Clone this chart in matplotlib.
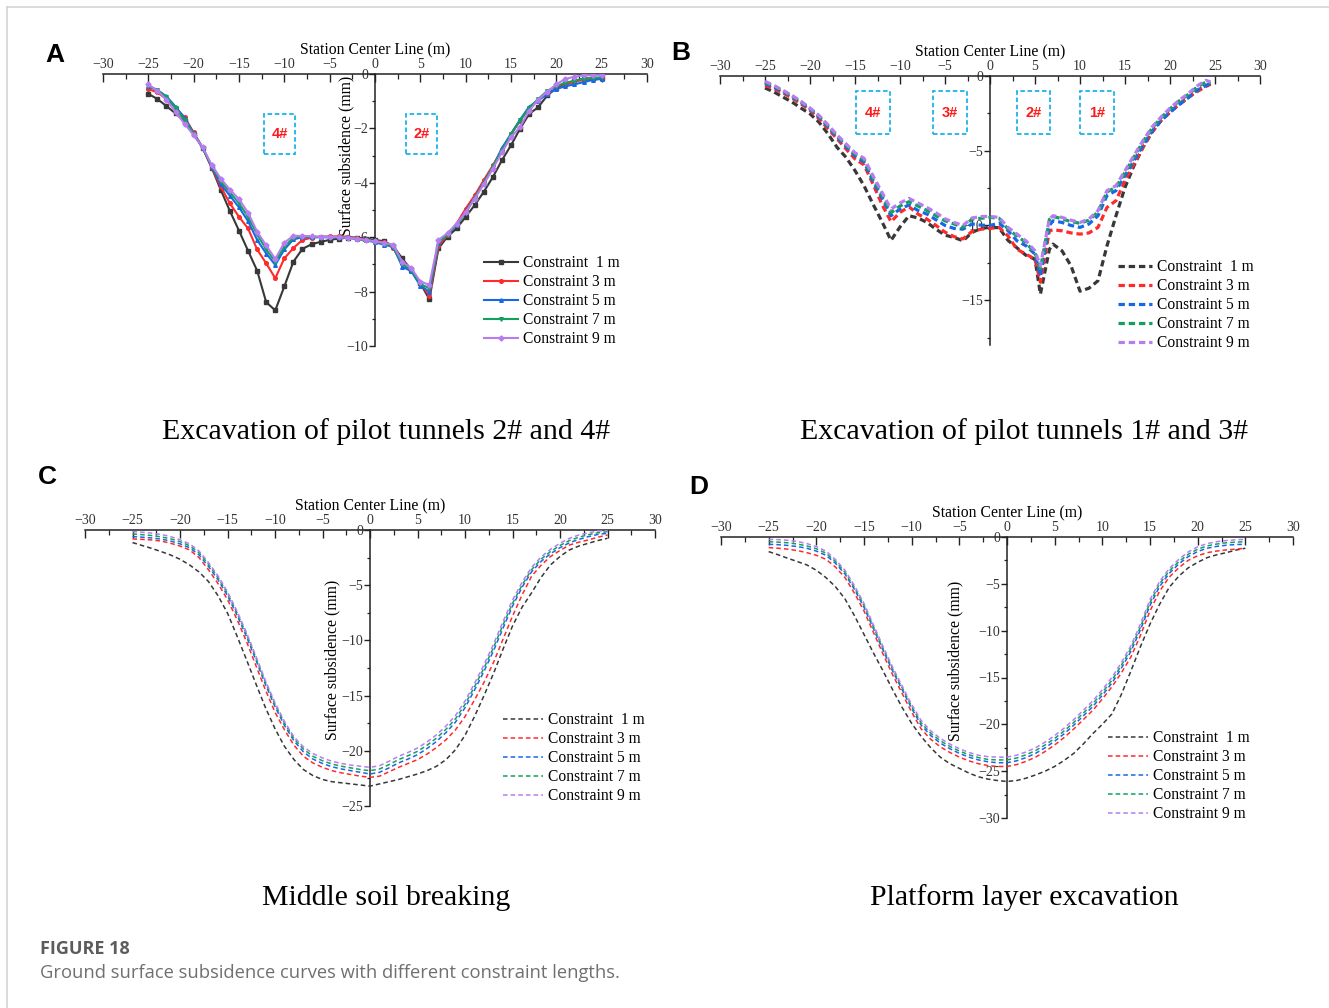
import matplotlib
matplotlib.use("Agg")
import matplotlib.pyplot as plt
from matplotlib.lines import Line2D
from matplotlib.patches import Rectangle
from matplotlib.ticker import MultipleLocator

# =========================
# Data
# =========================
LABELS = ["Constraint  1 m", "Constraint 3 m", "Constraint 5 m", "Constraint 7 m", "Constraint 9 m"]

# (A) pilot tunnels 2# and 4#
x_a = list(range(-25, 26))
a_1m = [-0.73, -0.92, -1.18, -1.45, -1.74, -2.22, -2.72, -3.45, -4.27, -5.04,
        -5.76, -6.50, -7.23, -8.39, -8.69, -7.81, -6.90, -6.43, -6.26, -6.17,
        -6.10, -6.05, -6.02, -6.02, -6.05, -6.10, -6.15, -6.32, -6.78, -7.20,
        -7.70, -8.28, -6.41, -5.98, -5.68, -5.25, -4.82, -4.33, -3.79, -3.17,
        -2.62, -2.01, -1.47, -1.22, -0.79, -0.52, -0.36, -0.25, -0.18, -0.15, -0.15]
a_3m = [-0.55, -0.68, -0.92, -1.25, -1.59, -2.15, -2.72, -3.45, -4.15, -4.76,
        -5.25, -5.68, -6.45, -6.96, -7.51, -6.78, -6.40, -6.10, -6.02, -5.98,
        -5.97, -5.97, -5.98, -6.02, -6.10, -6.15, -6.18, -6.40, -6.95, -7.22,
        -7.70, -8.16, -6.32, -5.92, -5.50, -4.95, -4.46, -3.90, -3.36, -2.78,
        -2.22, -1.72, -1.25, -0.95, -0.72, -0.55, -0.40, -0.28, -0.22, -0.18, -0.15]
a_5m = [-0.45, -0.60, -0.82, -1.20, -1.62, -2.18, -2.72, -3.42, -4.05, -4.48,
        -4.90, -5.41, -6.10, -6.60, -7.02, -6.45, -6.08, -6.00, -6.00, -6.00,
        -6.00, -6.00, -6.00, -6.05, -6.12, -6.18, -6.28, -6.35, -7.08, -7.25,
        -7.79, -8.00, -6.22, -5.90, -5.55, -5.05, -4.55, -4.00, -3.42, -2.72,
        -2.20, -1.68, -1.20, -0.98, -0.72, -0.55, -0.45, -0.38, -0.30, -0.22, -0.18]
a_7m = [-0.45, -0.58, -0.85, -1.25, -1.68, -2.20, -2.72, -3.38, -3.95, -4.35,
        -4.75, -5.25, -5.90, -6.45, -6.90, -6.35, -6.02, -5.98, -5.98, -5.99,
        -6.00, -6.00, -6.02, -6.08, -6.12, -6.15, -6.25, -6.35, -6.98, -7.20,
        -7.72, -7.88, -6.18, -5.92, -5.55, -5.10, -4.55, -4.00, -3.40, -2.80,
        -2.20, -1.70, -1.25, -0.92, -0.62, -0.45, -0.32, -0.25, -0.18, -0.15, -0.12]
a_9m = [-0.38, -0.62, -0.95, -1.40, -1.83, -2.25, -2.70, -3.35, -3.85, -4.25,
        -4.60, -5.10, -5.80, -6.30, -6.80, -6.20, -5.95, -5.95, -5.97, -5.98,
        -5.99, -6.00, -6.02, -6.05, -6.10, -6.15, -6.20, -6.28, -6.90, -7.14,
        -7.63, -7.75, -6.10, -5.85, -5.50, -5.08, -4.58, -4.05, -3.48, -2.88,
        -2.32, -1.95, -1.35, -0.95, -0.65, -0.38, -0.18, -0.10, -0.05, -0.05, -0.05]

# (B) pilot tunnels 1# and 3#
x_b = [-25, -24, -23, -22, -21, -20, -19, -18, -17, -16, -15, -14, -13, -12, -11,
       -10, -9, -8, -7, -6, -5, -4, -3, -2, -1, 0, 1, 2, 3, 4, 5, 5.6, 6.6,
       7, 8, 9, 10, 11, 12, 13, 14, 15, 16, 17, 18, 19, 20, 21, 22, 23, 24, 24.5]
b_1m = [-0.80, -1.07, -1.41, -1.74, -2.15, -2.53, -3.09, -3.87, -4.77, -5.44,
        -6.33, -7.34, -8.57, -9.75, -11.00, -10.10, -9.35, -9.50, -9.80, -10.25,
        -10.65, -10.80, -11.03, -10.47, -10.20, -10.13, -10.15, -11.00, -11.50, -12.00,
        -12.26, -14.60, -11.60, -11.25, -11.70, -12.70, -14.40, -14.20, -13.70, -11.36,
        -9.35, -7.45, -6.00, -4.77, -3.76, -2.98, -2.42, -1.90, -1.45, -1.00, -0.65, -0.50]
b_3m = [-0.63, -0.85, -1.14, -1.48, -1.86, -2.30, -2.86, -3.53, -4.20, -4.88,
        -5.55, -5.95, -7.23, -8.60, -9.75, -9.13, -8.75, -9.24, -9.58, -10.00,
        -10.45, -10.75, -10.90, -10.40, -10.25, -10.20, -10.13, -10.70, -11.60, -11.92,
        -12.26, -13.80, -10.36, -10.29, -10.36, -10.50, -10.58, -10.50, -10.13, -8.79,
        -8.34, -7.00, -5.88, -4.77, -3.76, -2.98, -2.42, -1.90, -1.45, -1.05, -0.70, -0.55]
b_5m = [-0.50, -0.75, -1.05, -1.38, -1.78, -2.22, -2.75, -3.40, -4.08, -4.72,
        -5.35, -5.75, -7.05, -8.15, -9.35, -8.90, -8.63, -9.00, -9.24, -9.62,
        -10.00, -10.20, -10.25, -9.90, -9.98, -10.00, -9.85, -10.35, -11.03, -11.36,
        -11.92, -13.38, -10.00, -9.69, -9.80, -10.00, -10.13, -9.90, -9.35, -8.00,
        -7.67, -6.67, -5.65, -4.65, -3.70, -3.00, -2.42, -1.93, -1.47, -0.96, -0.63, -0.55]
b_7m = [-0.42, -0.68, -1.00, -1.33, -1.72, -2.17, -2.68, -3.32, -4.00, -4.62,
        -5.22, -5.60, -6.85, -7.95, -9.15, -8.70, -8.41, -8.70, -9.00, -9.35,
        -9.69, -9.90, -10.13, -9.57, -9.52, -9.46, -9.52, -10.25, -10.70, -11.15,
        -11.85, -12.90, -9.60, -9.40, -9.55, -9.75, -9.85, -9.65, -9.10, -7.75,
        -7.45, -6.45, -5.42, -4.40, -3.50, -2.80, -2.20, -1.68, -1.25, -0.75, -0.40, -0.50]
b_9m = [-0.36, -0.63, -0.96, -1.30, -1.70, -2.15, -2.64, -3.27, -3.94, -4.54,
        -5.14, -5.50, -6.67, -7.79, -8.90, -8.50, -8.19, -8.50, -8.80, -9.15,
        -9.55, -9.80, -10.00, -9.50, -9.40, -9.40, -9.46, -10.13, -10.58, -11.03,
        -11.70, -12.70, -9.57, -9.35, -9.46, -9.65, -9.80, -9.57, -9.00, -7.67,
        -7.34, -6.33, -5.32, -4.32, -3.42, -2.75, -2.15, -1.63, -1.19, -0.67, -0.29, -0.40]

# (C) middle soil breaking
x_c = list(range(-25, 26))
c_1m = [-1.14, -1.40, -1.66, -1.95, -2.26, -2.65, -3.16, -3.80, -4.67, -5.95,
        -7.53, -9.60, -11.75, -13.95, -16.10, -18.00, -19.60, -20.80, -21.70, -22.25,
        -22.60, -22.80, -22.90, -23.00, -23.10, -23.20, -23.00, -22.80, -22.60, -22.35,
        -22.10, -21.80, -21.40, -20.80, -19.90, -18.60, -16.90, -15.00, -13.00, -10.80,
        -8.70, -7.00, -5.70, -4.30, -3.16, -2.40, -1.80, -1.45, -1.20, -0.95, -0.75]
c_3m = [-0.81, -0.85, -0.90, -1.00, -1.20, -1.45, -1.80, -2.50, -3.60, -4.85,
        -6.30, -8.10, -10.10, -12.30, -14.50, -16.50, -18.10, -19.50, -20.50, -21.10,
        -21.50, -21.80, -22.00, -22.15, -22.30, -22.40, -22.30, -21.90, -21.50, -21.15,
        -20.80, -20.30, -19.70, -19.00, -18.10, -16.90, -15.40, -13.80, -12.00, -9.90,
        -7.80, -5.90, -4.20, -3.20, -2.40, -1.85, -1.36, -1.10, -0.90, -0.65, -0.45]
c_5m = [-0.60, -0.65, -0.72, -0.82, -1.00, -1.25, -1.60, -2.25, -3.30, -4.50,
        -5.95, -7.70, -9.65, -11.80, -14.00, -16.00, -17.70, -19.10, -20.10, -20.75,
        -21.15, -21.45, -21.65, -21.80, -21.95, -22.10, -21.95, -21.55, -21.10, -20.75,
        -20.35, -19.80, -19.15, -18.35, -17.40, -16.10, -14.50, -12.80, -10.95, -8.90,
        -6.90, -5.20, -3.80, -2.85, -2.15, -1.60, -1.15, -0.85, -0.60, -0.40, -0.30]
c_7m = [-0.36, -0.42, -0.50, -0.62, -0.80, -1.05, -1.42, -2.05, -3.10, -4.30,
        -5.75, -7.50, -9.45, -11.60, -13.80, -15.80, -17.50, -18.90, -19.85, -20.50,
        -20.90, -21.20, -21.40, -21.55, -21.70, -21.80, -21.65, -21.25, -20.80, -20.45,
        -20.05, -19.50, -18.85, -18.05, -17.10, -15.80, -14.20, -12.50, -10.65, -8.60,
        -6.65, -5.00, -3.60, -2.65, -1.95, -1.40, -0.95, -0.65, -0.42, -0.25, -0.15]
c_9m = [-0.15, -0.20, -0.28, -0.40, -0.60, -0.88, -1.25, -1.90, -2.95, -4.15,
        -5.60, -7.35, -9.30, -11.45, -13.65, -15.65, -17.35, -18.75, -19.65, -20.25,
        -20.65, -20.95, -21.15, -21.30, -21.40, -21.50, -21.35, -20.95, -20.50, -20.15,
        -19.75, -19.20, -18.55, -17.75, -16.80, -15.50, -13.90, -12.20, -10.35, -8.30,
        -6.35, -4.75, -3.40, -2.45, -1.75, -1.20, -0.75, -0.45, -0.25, -0.10, -0.05]

# (D) platform layer excavation
x_d = list(range(-25, 26))
d_1m = [-1.56, -1.90, -2.27, -2.62, -2.98, -3.55, -4.33, -5.30, -6.60, -8.40,
        -10.40, -12.40, -14.30, -16.30, -18.20, -19.90, -21.30, -22.50, -23.50, -24.20,
        -24.70, -25.20, -25.60, -25.85, -26.00, -26.10, -26.00, -25.75, -25.40, -25.00,
        -24.50, -23.85, -23.10, -22.10, -21.00, -20.00, -18.90, -16.80, -14.30, -11.70,
        -9.30, -7.20, -5.40, -4.20, -3.30, -2.70, -2.20, -1.90, -1.67, -1.40, -1.20]
d_3m = [-1.13, -1.20, -1.30, -1.45, -1.67, -1.95, -2.38, -3.20, -4.33, -6.00,
        -7.90, -10.20, -12.50, -14.70, -16.70, -18.70, -20.50, -21.60, -22.40, -23.00,
        -23.50, -23.90, -24.20, -24.40, -24.50, -24.50, -24.30, -23.95, -23.50, -22.90,
        -22.20, -21.40, -20.50, -19.50, -18.50, -17.30, -16.00, -14.50, -12.80, -10.50,
        -7.90, -5.80, -4.30, -3.30, -2.50, -2.00, -1.67, -1.50, -1.38, -1.30, -1.20]
d_5m = [-0.78, -0.82, -0.90, -1.02, -1.20, -1.50, -1.95, -2.80, -3.95, -5.60,
        -7.50, -9.80, -12.10, -14.30, -16.30, -18.30, -20.10, -21.20, -22.00, -22.60,
        -23.10, -23.50, -23.80, -24.00, -24.10, -24.10, -23.90, -23.55, -23.10, -22.50,
        -21.80, -21.00, -20.10, -19.10, -18.10, -16.90, -15.60, -14.00, -12.20, -9.90,
        -7.30, -5.30, -3.90, -2.90, -2.10, -1.55, -1.20, -1.00, -0.88, -0.80, -0.78]
d_7m = [-0.50, -0.55, -0.62, -0.75, -0.95, -1.25, -1.72, -2.60, -3.75, -5.40,
        -7.30, -9.60, -11.90, -14.10, -16.10, -18.10, -19.85, -20.95, -21.75, -22.35,
        -22.85, -23.25, -23.55, -23.75, -23.80, -23.80, -23.60, -23.25, -22.80, -22.20,
        -21.50, -20.70, -19.80, -18.80, -17.80, -16.60, -15.30, -13.70, -11.90, -9.60,
        -7.00, -5.00, -3.65, -2.65, -1.85, -1.30, -0.95, -0.75, -0.62, -0.55, -0.50]
d_9m = [-0.25, -0.28, -0.35, -0.48, -0.70, -1.02, -1.50, -2.40, -3.55, -5.20,
        -7.10, -9.40, -11.70, -13.90, -15.90, -17.90, -19.60, -20.70, -21.50, -22.10,
        -22.60, -23.00, -23.30, -23.45, -23.50, -23.50, -23.30, -22.95, -22.50, -21.90,
        -21.20, -20.40, -19.50, -18.50, -17.50, -16.30, -15.00, -13.40, -11.60, -9.30,
        -6.70, -4.75, -3.40, -2.40, -1.60, -1.05, -0.70, -0.50, -0.38, -0.30, -0.25]

# =========================
# Style
# =========================
W, H = 1329, 1008
SERIF = "Liberation Serif"
SANS = "Liberation Sans"
COLORS = ["#383838", "#ff2a2a", "#1668e8", "#13a05e", "#b77df0"]
MARKERS = ["s", "o", "^", "v", "D"]
BOX_COLOR = "#1ab4ea"
TICK_SIZE = 10
LABEL_SIZE = 11.3
LEGEND_SIZE = 11.2


def fx(px):
    return px / W


def fy(py):
    return 1 - py / H


def make_axes(fig, left, top, right, bottom):
    return fig.add_axes([fx(left), fy(bottom), fx(right - left), (bottom - top) / H])


def style_axes(ax, ymin, ymajor, yminor):
    ax.set_xlim(-30, 30)
    ax.set_ylim(ymin, 0)
    ax.patch.set_visible(False)
    for side in ("bottom", "right"):
        ax.spines[side].set_visible(False)
    ax.spines["left"].set_position(("data", 0))
    for side in ("top", "left"):
        ax.spines[side].set_linewidth(1.1)
        ax.spines[side].set_color("#222222")
    ax.xaxis.tick_top()
    ax.xaxis.set_label_position("top")
    ax.xaxis.set_major_locator(MultipleLocator(5))
    ax.xaxis.set_minor_locator(MultipleLocator(2.5))
    ax.yaxis.set_major_locator(MultipleLocator(ymajor))
    ax.yaxis.set_minor_locator(MultipleLocator(yminor))
    ax.tick_params(axis="x", which="both", direction="in", top=True, bottom=False,
                   labelsize=TICK_SIZE, labelcolor="#333333", pad=2, color="#222222")
    ax.tick_params(axis="x", which="major", length=6, width=1.0)
    ax.tick_params(axis="x", which="minor", length=3.5, width=0.9)
    ax.tick_params(axis="y", which="both", direction="out", left=True, right=False,
                   labelsize=TICK_SIZE, labelcolor="#333333", pad=1, color="#222222")
    ax.tick_params(axis="y", which="major", length=4, width=1.0)
    ax.tick_params(axis="y", which="minor", length=2.5, width=0.9)
    for lab in ax.get_xticklabels() + ax.get_yticklabels():
        lab.set_family(SERIF)
    ax.set_xlabel("Station Center Line (m)", fontsize=LABEL_SIZE, family=SERIF, labelpad=3)


def add_ylabel(ax, x_frac, y_frac):
    ax.set_ylabel("Surface subsidence (mm)", fontsize=LABEL_SIZE, family=SERIF)
    ax.yaxis.set_label_coords(x_frac, y_frac)


def add_legend(ax, fig, left_px, top_px, handlelength):
    ax.legend(loc="upper left", bbox_to_anchor=(fx(left_px), fy(top_px)),
              bbox_transform=fig.transFigure, frameon=False, borderpad=0,
              borderaxespad=0, handlelength=handlelength, handletextpad=0.3,
              labelspacing=0.2, prop={"family": SERIF, "size": LEGEND_SIZE})


def add_box(ax, x0, x1, y0, y1, text):
    ax.add_patch(Rectangle((x0, y1), x1 - x0, y0 - y1, fill=False, ec=BOX_COLOR,
                           lw=1.3, ls=(0, (2.5, 1.5)), zorder=4))
    ax.text((x0 + x1) / 2, (y0 + y1) / 2, text, color="#ff1a1a", fontsize=10.5,
            fontweight="bold", family=SANS, ha="center", va="center", zorder=4)


fig = plt.figure(figsize=(W / 100, H / 100), dpi=100)

# page frame
fig.add_artist(Line2D([fx(7), 1], [fy(7), fy(7)], transform=fig.transFigure,
                      color="#d4d4d4", lw=1.2))
fig.add_artist(Line2D([fx(7), fx(7)], [fy(7), 0], transform=fig.transFigure,
                      color="#d4d4d4", lw=1.2))

# =========================
# Panel A
# =========================
ax_a = make_axes(fig, 103, 74, 647, 346)
style_axes(ax_a, -10, 2, 1)
add_ylabel(ax_a, 0.462, 0.70)
for ys, lab, col, mk in zip([a_1m, a_3m, a_5m, a_7m, a_9m], LABELS, COLORS, MARKERS):
    ax_a.plot(x_a, ys, color=col, lw=1.5, marker=mk, ms=2.6, label=lab, zorder=3)
add_box(ax_a, -12.2, -8.8, -1.47, -2.93, "4#")
add_box(ax_a, 3.4, 6.8, -1.47, -2.93, "2#")
add_legend(ax_a, fig, 484, 255, 2.2)

# =========================
# Panel B
# =========================
ax_b = make_axes(fig, 720, 76, 1260, 345)
style_axes(ax_b, -18, 5, 2.5)
for ys, lab, col in zip([b_1m, b_3m, b_5m, b_7m, b_9m], LABELS, COLORS):
    ax_b.plot(x_b, ys, color=col, lw=2.3, ls=(0, (2.0, 1.2)), label=lab, zorder=3)
add_box(ax_b, -14.9, -11.1, -1.0, -3.9, "4#")
add_box(ax_b, -6.3, -2.6, -1.0, -3.9, "3#")
add_box(ax_b, 3.0, 6.7, -1.0, -3.9, "2#")
add_box(ax_b, 10.0, 13.8, -1.0, -3.9, "1#")
add_legend(ax_b, fig, 1118, 259, 2.2)

# =========================
# Panel C
# =========================
ax_c = make_axes(fig, 85, 530, 655, 806)
style_axes(ax_c, -25, 5, 2.5)
add_ylabel(ax_c, 0.448, 0.53)
for ys, lab, col in zip([c_1m, c_3m, c_5m, c_7m, c_9m], LABELS, COLORS):
    ax_c.plot(x_c, ys, color=col, lw=1.1, ls=(0, (3, 2)), label=lab, zorder=3)
add_legend(ax_c, fig, 503, 712, 2.6)

# =========================
# Panel D
# =========================
ax_d = make_axes(fig, 721, 537, 1293, 818)
style_axes(ax_d, -30, 5, 2.5)
add_ylabel(ax_d, 0.424, 0.56)
for ys, lab, col in zip([d_1m, d_3m, d_5m, d_7m, d_9m], LABELS, COLORS):
    ax_d.plot(x_d, ys, color=col, lw=1.1, ls=(0, (3, 2)), label=lab, zorder=3)
add_legend(ax_d, fig, 1108, 730, 2.6)

# =========================
# Panel letters, titles, caption
# =========================
for letter, px, py in [("A", 55, 55), ("B", 681, 53), ("C", 47, 477), ("D", 699, 487)]:
    fig.text(fx(px), fy(py), letter, fontsize=19, fontweight="bold", family=SANS,
             ha="center", va="center")

titles = [
    ("Excavation of pilot tunnels 2# and 4#", 386, 432),
    ("Excavation of pilot tunnels 1# and 3#", 1024, 432),
    ("Middle soil breaking", 386, 898),
    ("Platform layer excavation", 1024, 898),
]
for text, px, py in titles:
    fig.text(fx(px), fy(py), text, fontsize=21.5, family=SERIF, ha="center", va="center")

fig.text(fx(40), fy(949), "FIGURE 18", fontsize=13, fontweight="bold",
         family="Open Sans", color="#5c5c5c", ha="left", va="center")
fig.text(fx(40), fy(973), "Ground surface subsidence curves with different constraint lengths.",
         fontsize=13.2, family="Open Sans", color="#707070", ha="left", va="center")

fig.savefig("out.png", dpi=100)
